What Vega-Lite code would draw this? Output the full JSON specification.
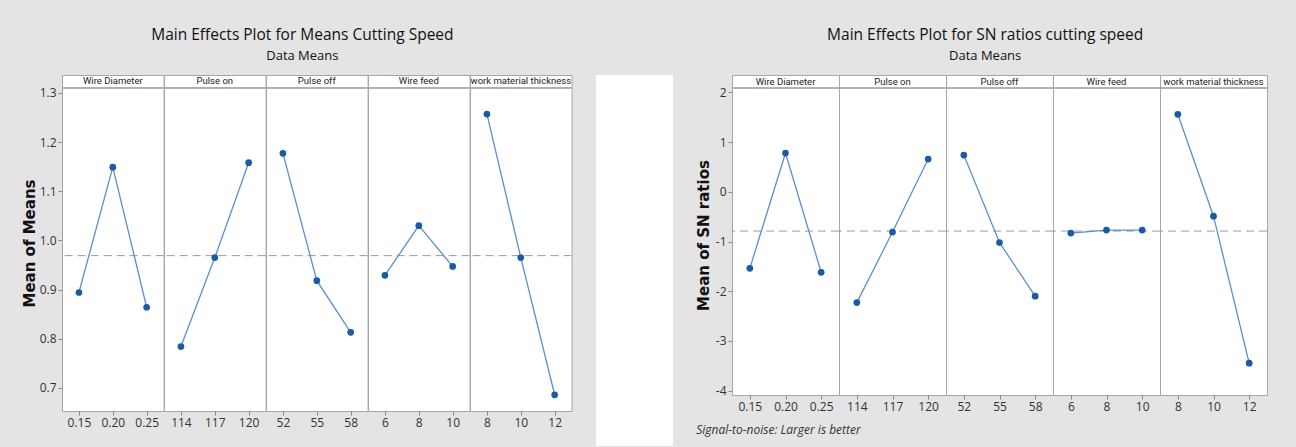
{
  "$schema": "https://vega.github.io/schema/vega-lite/v6.json",
  "background": "#e4e4e4",
  "padding": {"left": 22, "top": 28, "right": 28, "bottom": 1},
  "datasets": {
    "means": [
      {"factor": "Wire Diameter", "level": "0.15", "lv": 0.15, "value": 0.894, "grand": 0.969},
      {"factor": "Wire Diameter", "level": "0.20", "lv": 0.20, "value": 1.149, "grand": 0.969},
      {"factor": "Wire Diameter", "level": "0.25", "lv": 0.25, "value": 0.864, "grand": 0.969},
      {"factor": "Pulse on", "level": "114", "lv": 114, "value": 0.784, "grand": 0.969},
      {"factor": "Pulse on", "level": "117", "lv": 117, "value": 0.965, "grand": 0.969},
      {"factor": "Pulse on", "level": "120", "lv": 120, "value": 1.158, "grand": 0.969},
      {"factor": "Pulse off", "level": "52", "lv": 52, "value": 1.177, "grand": 0.969},
      {"factor": "Pulse off", "level": "55", "lv": 55, "value": 0.918, "grand": 0.969},
      {"factor": "Pulse off", "level": "58", "lv": 58, "value": 0.813, "grand": 0.969},
      {"factor": "Wire feed", "level": "6", "lv": 6, "value": 0.929, "grand": 0.969},
      {"factor": "Wire feed", "level": "8", "lv": 8, "value": 1.030, "grand": 0.969},
      {"factor": "Wire feed", "level": "10", "lv": 10, "value": 0.947, "grand": 0.969},
      {"factor": "work material thickness", "level": "8", "lv": 8, "value": 1.257, "grand": 0.969},
      {"factor": "work material thickness", "level": "10", "lv": 10, "value": 0.965, "grand": 0.969},
      {"factor": "work material thickness", "level": "12", "lv": 12, "value": 0.686, "grand": 0.969}
    ],
    "sn": [
      {"factor": "Wire Diameter", "level": "0.15", "lv": 0.15, "value": -1.54, "grand": -0.79},
      {"factor": "Wire Diameter", "level": "0.20", "lv": 0.20, "value": 0.78, "grand": -0.79},
      {"factor": "Wire Diameter", "level": "0.25", "lv": 0.25, "value": -1.62, "grand": -0.79},
      {"factor": "Pulse on", "level": "114", "lv": 114, "value": -2.23, "grand": -0.79},
      {"factor": "Pulse on", "level": "117", "lv": 117, "value": -0.81, "grand": -0.79},
      {"factor": "Pulse on", "level": "120", "lv": 120, "value": 0.66, "grand": -0.79},
      {"factor": "Pulse off", "level": "52", "lv": 52, "value": 0.74, "grand": -0.79},
      {"factor": "Pulse off", "level": "55", "lv": 55, "value": -1.02, "grand": -0.79},
      {"factor": "Pulse off", "level": "58", "lv": 58, "value": -2.10, "grand": -0.79},
      {"factor": "Wire feed", "level": "6", "lv": 6, "value": -0.83, "grand": -0.79},
      {"factor": "Wire feed", "level": "8", "lv": 8, "value": -0.77, "grand": -0.79},
      {"factor": "Wire feed", "level": "10", "lv": 10, "value": -0.77, "grand": -0.79},
      {"factor": "work material thickness", "level": "8", "lv": 8, "value": 1.56, "grand": -0.79},
      {"factor": "work material thickness", "level": "10", "lv": 10, "value": -0.49, "grand": -0.79},
      {"factor": "work material thickness", "level": "12", "lv": 12, "value": -3.45, "grand": -0.79}
    ]
  },
  "config": {
    "font": "Open Sans",
    "view": {"stroke": "#a6a6a6", "fill": "white", "strokeWidth": 1},
    "axis": {"grid": false, "domain": false, "tickColor": "#8a8a8a", "tickSize": 4, "labelFontSize": 12, "labelColor": "#333333", "labelPadding": 2},
    "title": {"anchor": "middle", "fontSize": 15.5, "fontWeight": 500, "subtitleFontSize": 13, "subtitleFontWeight": 500, "color": "#111111", "subtitleColor": "#111111", "subtitlePadding": 6, "offset": 12}
  },
  "spacing": 23,
  "hconcat": [
    {
      "title": {"text": "Main Effects Plot for Means Cutting Speed", "subtitle": "Data Means", "dx": 5},
      "data": {"name": "means"},
      "facet": {"column": {"field": "factor", "header": null, "sort": ["Wire Diameter", "Pulse on", "Pulse off", "Wire feed", "work material thickness"]}},
      "spacing": 0,
      "bounds": "flush",
      "resolve": {"scale": {"x": "independent"}},
      "spec": {
        "width": 101.6, "height": 336,
        "layer": [
          {
            "mark": {"type": "rule", "strokeDash": [8, 5], "color": "#9a9a9a", "strokeWidth": 1},
            "encoding": {
              "y": {"field": "grand", "type": "quantitative", "aggregate": "min", "scale": {"domain": [0.653, 1.3364], "nice": false, "zero": false}, "axis": {"title": "Mean of Means", "values": [0.7, 0.8, 0.9, 1.0, 1.1, 1.2, 1.3], "format": ".1f", "titleFontSize": 15, "titleFontWeight": "bold", "titleFont": "DejaVu Sans", "titleColor": "#111111", "titlePadding": 2}}
            }
          },
          {
            "mark": {"type": "rule", "color": "#a6a6a6", "strokeWidth": 1},
            "encoding": {"y": {"datum": 1.31, "type": "quantitative"}}
          },
          {
            "transform": [{"aggregate": [{"op": "count", "as": "n"}], "groupby": ["factor"]}],
            "mark": {"type": "text", "fontSize": 9.5, "font": "Liberation Sans Narrow, Roboto, sans-serif", "color": "#222222", "baseline": "middle"},
            "encoding": {"y": {"datum": 1.3232, "type": "quantitative"}, "text": {"field": "factor"}}
          },
          {
            "mark": {"type": "line", "color": "#5b8fd0", "strokeWidth": 1.3},
            "encoding": {
              "x": {"field": "level", "type": "ordinal", "sort": {"field": "lv", "op": "min"}, "scale": {"type": "point", "padding": 0.5}, "axis": {"title": null, "labelAngle": 0}},
              "y": {"field": "value", "type": "quantitative"}
            }
          },
          {
            "mark": {"type": "point", "filled": true, "color": "#1a5aa6", "size": 45, "opacity": 1},
            "encoding": {
              "x": {"field": "level", "type": "ordinal", "sort": {"field": "lv", "op": "min"}, "scale": {"type": "point", "padding": 0.5}, "axis": {"title": null, "labelAngle": 0}},
              "y": {"field": "value", "type": "quantitative"}
            }
          }
        ]
      }
    },
    {
      "width": 77,
      "height": 371,
      "view": {"fill": "white", "stroke": null},
      "data": {"values": []},
      "mark": {"type": "rule"},
      "encoding": {}
    },
    {
      "title": {"text": "Signal-to-noise: Larger is better", "orient": "bottom", "anchor": "start", "frame": "bounds", "fontStyle": "italic", "fontSize": 12, "fontWeight": "normal", "offset": 12, "color": "#333333"},
      "vconcat": [
        {
          "title": {"text": "Main Effects Plot for SN ratios cutting speed", "subtitle": "Data Means", "dx": 3},
          "data": {"name": "sn"},
          "facet": {"column": {"field": "factor", "header": null, "sort": ["Wire Diameter", "Pulse on", "Pulse off", "Wire feed", "work material thickness"]}},
          "spacing": 0,
          "bounds": "flush",
          "resolve": {"scale": {"x": "independent"}},
          "spec": {
            "width": 107, "height": 320,
            "layer": [
              {
                "mark": {"type": "rule", "strokeDash": [8, 5], "color": "#9a9a9a", "strokeWidth": 1},
                "encoding": {
                  "y": {"field": "grand", "type": "quantitative", "aggregate": "min", "scale": {"domain": [-4.09, 2.3517], "nice": false, "zero": false}, "axis": {"title": "Mean of SN ratios", "values": [-4, -3, -2, -1, 0, 1, 2], "labelExpr": "'' + datum.value", "titleFontSize": 15, "titleFontWeight": "bold", "titleFont": "DejaVu Sans", "titleColor": "#111111", "titlePadding": 4}}
                }
              },
              {
                "mark": {"type": "rule", "color": "#a6a6a6", "strokeWidth": 1},
                "encoding": {"y": {"datum": 2.09, "type": "quantitative"}}
              },
              {
                "transform": [{"aggregate": [{"op": "count", "as": "n"}], "groupby": ["factor"]}],
                "mark": {"type": "text", "fontSize": 9.5, "font": "Liberation Sans Narrow, Roboto, sans-serif", "color": "#222222", "baseline": "middle"},
                "encoding": {"y": {"datum": 2.2208, "type": "quantitative"}, "text": {"field": "factor"}}
              },
              {
                "mark": {"type": "line", "color": "#5b8fd0", "strokeWidth": 1.3},
                "encoding": {
                  "x": {"field": "level", "type": "ordinal", "sort": {"field": "lv", "op": "min"}, "scale": {"type": "point", "padding": 0.5}, "axis": {"title": null, "labelAngle": 0}},
                  "y": {"field": "value", "type": "quantitative"}
                }
              },
              {
                "mark": {"type": "point", "filled": true, "color": "#1a5aa6", "size": 45, "opacity": 1},
                "encoding": {
                  "x": {"field": "level", "type": "ordinal", "sort": {"field": "lv", "op": "min"}, "scale": {"type": "point", "padding": 0.5}, "axis": {"title": null, "labelAngle": 0}},
                  "y": {"field": "value", "type": "quantitative"}
                }
              }
            ]
          }
        }
      ]
    }
  ]
}
